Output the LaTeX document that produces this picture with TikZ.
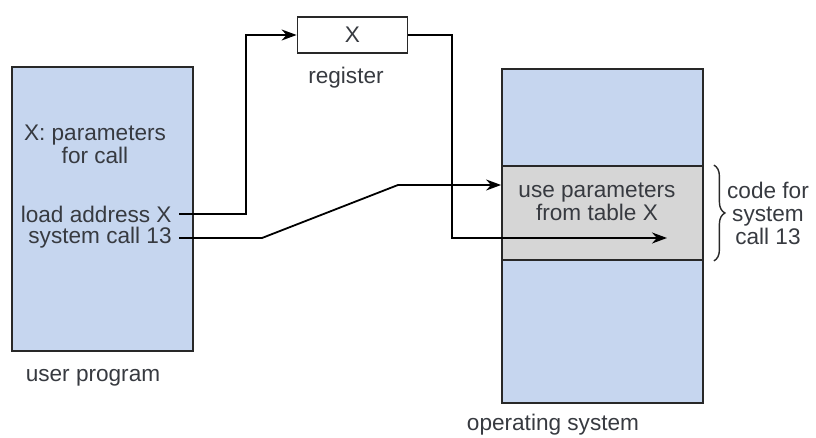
\documentclass[tikz,border=0pt]{standalone}
\usepackage{fontspec}
\setmainfont{Liberation Sans}
\usetikzlibrary{arrows.meta,decorations.pathreplacing}
\definecolor{memblue}{RGB}{198,214,239}
\definecolor{codegray}{RGB}{214,214,214}
\definecolor{ink}{RGB}{55,58,64}
\definecolor{edge}{RGB}{40,40,40}
\tikzset{
  memblock/.style={draw=edge, line width=0.9pt, fill=memblue, inner sep=0pt},
  codeband/.style={draw=edge, line width=0.9pt, fill=codegray, inner sep=0pt},
  regbox/.style={draw=edge, line width=0.9pt, fill=white, inner sep=0pt,
    minimum width=55pt, minimum height=18pt},
  txt/.style={text=ink, inner sep=0pt, align=center,
    font=\fontsize{11.3}{11.5}\selectfont},
  wire/.style={draw=black, line width=0.9pt},
  flow/.style={wire, -{Stealth[length=7.5pt,width=5.5pt]}},
}
\begin{document}
\begin{tikzpicture}[x=0.5pt, y=-0.5pt]
  \useasboundingbox (0,0) rectangle (816,438);

  % memory blocks
  \node[memblock, minimum width=90.5pt, minimum height=142pt] (user) at (102.5,209) {};
  \node[memblock, minimum width=100.5pt, minimum height=167pt] (os) at (602.5,236) {};
  \node[codeband, minimum width=100.5pt, minimum height=47pt] (band) at (602.5,213) {};
  \node[regbox] (reg) at (352.5,35) {};
  \node[txt] (regx) at (352.5,35) {X};

  % captions
  \node[txt] (regname) at (346,78) {register};
  \node[txt] (username) at (93,378) {user program};
  \node[txt] (osname) at (553,425) {operating system};

  % user program contents
  \node[txt] (params) at (95,144) {X: parameters\\for call};
  \node[txt, anchor=east] (load) at (172,214) {load address X};
  \node[txt, anchor=east] (sys) at (172,238) {system call 13};

  % system call code contents
  \node[txt] (use) at (597,201.5) {use parameters\\from table X};
  \node[txt] (codefor) at (768,213.5) {code for\\system\\call 13};

  % bends of the connectors
  \coordinate (c1) at (246,214);
  \coordinate (c2) at (246,35);
  \coordinate (s1) at (262,238);
  \coordinate (s2) at (398,185);
  \coordinate (r1) at (452,35);
  \coordinate (r2) at (452,238);
  \coordinate (rend) at (667,238);

  % connectors
  \draw[flow] ([xshift=3.5pt]load.east) -- (c1) -- (c2) -- (reg.west);
  \draw[flow] ([xshift=3.5pt]sys.east) -- (s1) -- (s2) -- (os.west |- s2);
  \draw[flow] (reg.east) -- (r1) -- (r2) -- (rend);

  % brace around the system call code
  \draw[edge, line width=0.7pt,
        decorate, decoration={brace, amplitude=5.5pt}]
    ([xshift=5pt]band.north east) -- ([xshift=5pt]band.south east);
\end{tikzpicture}
\end{document}
